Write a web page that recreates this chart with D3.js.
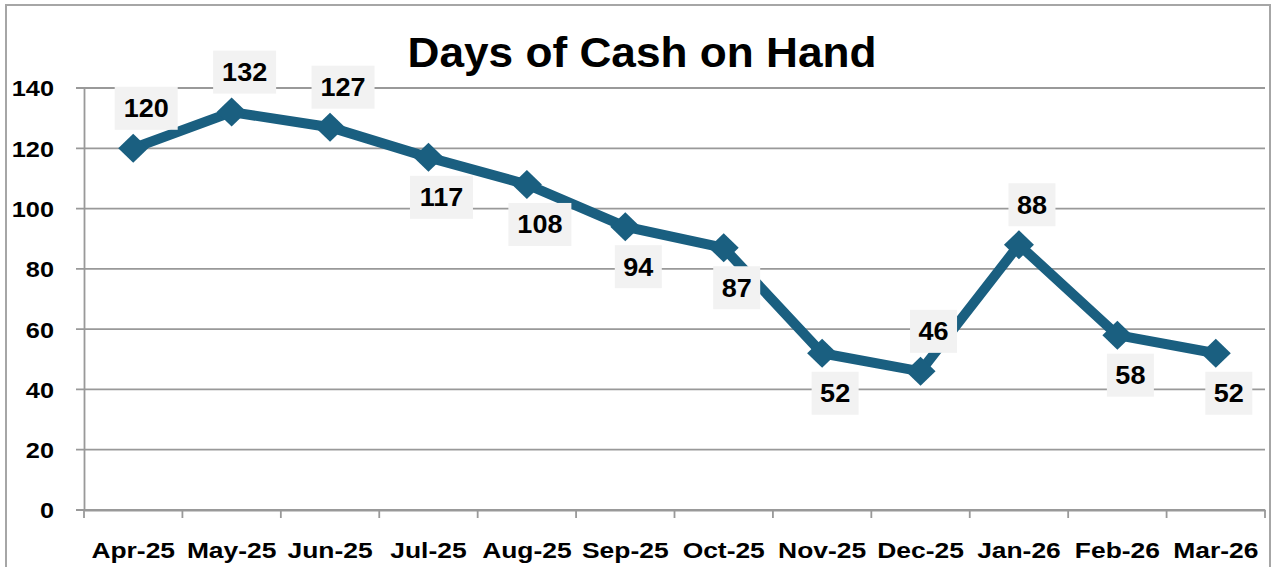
<!DOCTYPE html>
<html><head><meta charset="utf-8">
<script src="https://cdn.jsdelivr.net/npm/d3@7/dist/d3.min.js"></script>
<style>body{margin:0;background:#fff}svg{display:block}</style>
</head><body>
<script>
const categories = ["Apr-25","May-25","Jun-25","Jul-25","Aug-25","Sep-25","Oct-25","Nov-25","Dec-25","Jan-26","Feb-26","Mar-26"];
const values = [120,132,127,117,108,94,87,52,46,88,58,52];
const labelPlacement = ["above","above","above","below","below","below","below","below","above","above","below","below"];
const yTicks = [0,20,40,60,80,100,120,140];
const title = "Days of Cash on Hand";

const W = 1275, H = 567;
const svg = d3.select("body").append("svg").attr("width", W).attr("height", H);
const font = "'Liberation Sans', Arial, sans-serif";

function widen(sel, k) {
  sel.each(function(){ this.setAttribute("textLength", this.getComputedTextLength()*k); this.setAttribute("lengthAdjust","spacingAndGlyphs"); });
}

svg.append("rect").attr("x", 6).attr("y", 5).attr("width", 1264).attr("height", 570)
  .attr("fill", "#fff").attr("stroke", "#a6a6a6").attr("stroke-width", 2);

const x = d3.scaleBand().domain(categories).range([84, 1265]).padding(0);
const y = d3.scaleLinear().domain([0, 140]).range([510, 88]);

// gridlines
svg.append("g").selectAll("line").data(yTicks).join("line")
  .attr("x1", 76).attr("x2", 1265)
  .attr("y1", d => y(d)).attr("y2", d => y(d))
  .attr("stroke", "#999").attr("stroke-width", 1.8);

// y axis
const yAxis = svg.append("g").attr("transform", "translate(84,0)")
  .call(d3.axisLeft(y).tickValues(yTicks).tickSize(0).tickPadding(30));
yAxis.select(".domain").attr("stroke", "#999").attr("stroke-width", 1.8);
yAxis.selectAll("text").attr("font-family", font).attr("font-weight", "bold")
  .attr("font-size", 22).attr("fill", "#000").attr("dy", "0.36em");
widen(yAxis.selectAll("text"), 1.15);

// x axis
const xAxis = svg.append("g").attr("transform", "translate(0,510)")
  .call(d3.axisBottom(x).tickSize(0).tickPadding(32));
xAxis.select(".domain").attr("stroke", "#999").attr("stroke-width", 1.8);
xAxis.selectAll(".tick line").remove();
svg.append("g").selectAll("line").data(d3.range(categories.length + 1)).join("line")
  .attr("x1", i => 84 + i * x.step()).attr("x2", i => 84 + i * x.step())
  .attr("y1", 510).attr("y2", 518)
  .attr("stroke", "#999").attr("stroke-width", 1.8);
xAxis.selectAll("text").attr("font-family", font).attr("font-weight", "bold")
  .attr("font-size", 22).attr("fill", "#000");
widen(xAxis.selectAll("text"), 1.2);

// title
const t = svg.append("text").attr("x", 642).attr("y", 67).attr("text-anchor", "middle")
  .attr("font-family", font).attr("font-weight", "bold").attr("font-size", 43)
  .attr("fill", "#000").text(title);
t.attr("textLength", 469).attr("lengthAdjust", "spacingAndGlyphs");

const color = "#1a5f80";
const pts = categories.map((c, i) => ({c, v: values[i], p: labelPlacement[i]}));
const line = d3.line().x(d => x(d.c) + x.bandwidth() / 2).y(d => y(d.v));
svg.append("path").datum(pts).attr("d", line).attr("fill", "none")
  .attr("stroke", color).attr("stroke-width", 10).attr("stroke-linejoin", "miter");

svg.append("g").selectAll("path").data(pts).join("path")
  .attr("transform", d => `translate(${x(d.c) + x.bandwidth() / 2},${y(d.v)})`)
  .attr("d", "M0,-14.5L15,0L0,14.5L-15,0Z").attr("fill", color);

// labels
const lg = svg.append("g").selectAll("g").data(pts).join("g")
  .attr("transform", d => `translate(${x(d.c) + x.bandwidth() / 2 + 13},${y(d.v) + (d.p === "above" ? -40 : 40)})`);
lg.append("rect")
  .attr("x", d => String(d.v).length === 3 ? -31.5 : -23.5)
  .attr("width", d => String(d.v).length === 3 ? 63 : 47)
  .attr("y", -21.5).attr("height", 43).attr("fill", "#f2f2f2");
const lt = lg.append("text").attr("text-anchor", "middle").attr("y", 9)
  .attr("font-family", font).attr("font-weight", "bold").attr("font-size", 25)
  .attr("fill", "#000").text(d => d.v);
widen(lt, 1.08);
</script>
</body></html>
